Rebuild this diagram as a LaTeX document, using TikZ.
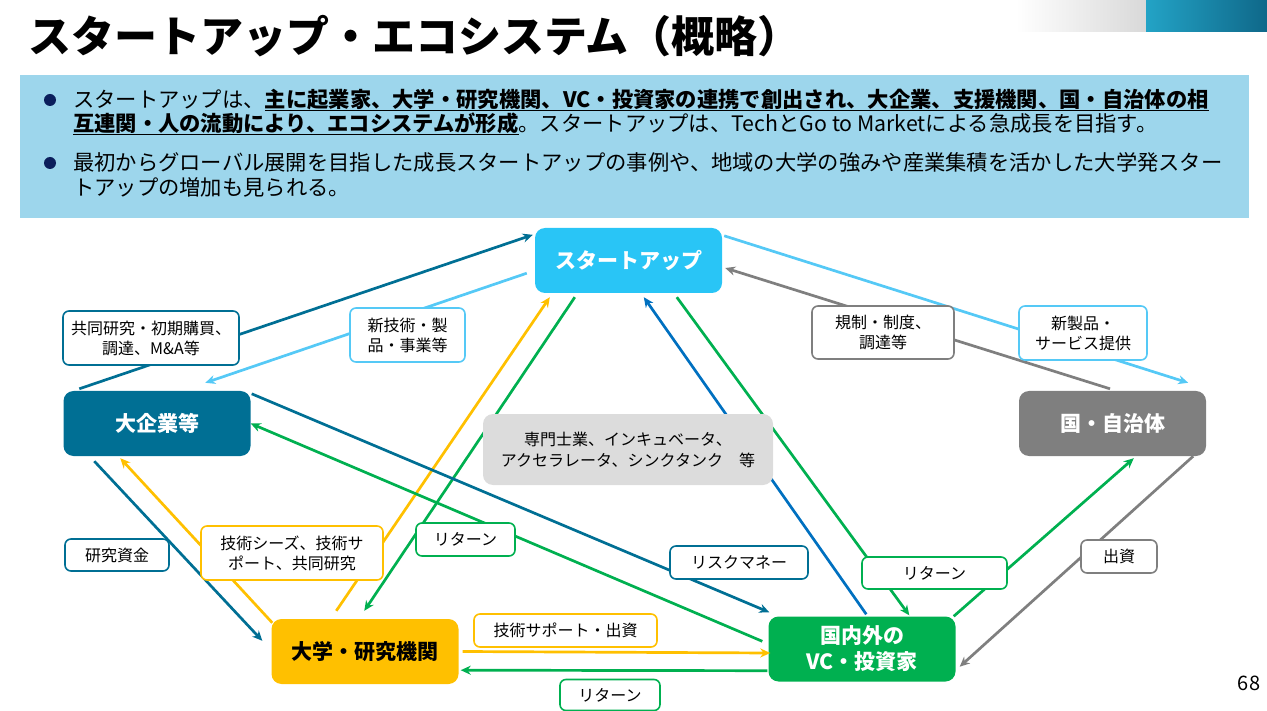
\documentclass[tikz,border=0pt]{standalone}
\usepackage{fontspec}
\setmainfont{Noto Sans CJK JP}
\usetikzlibrary{arrows.meta}

\definecolor{cStart}{HTML}{29C5F6}
\definecolor{cCorp}{HTML}{006F94}
\definecolor{cGov}{HTML}{7F7F7F}
\definecolor{cUni}{HTML}{FFC000}
\definecolor{cVC}{HTML}{00B050}
\definecolor{cSky}{HTML}{55C9F6}
\definecolor{cBlue}{HTML}{0070C0}
\definecolor{cPanel}{HTML}{9DD6EC}
\definecolor{cNavy}{HTML}{0B1F5C}
\definecolor{cSupport}{HTML}{DCDCDC}
\definecolor{cTealA}{HTML}{23A3C6}
\definecolor{cTealB}{HTML}{0F6889}

\newcommand{\keyline}[1]{\setbox0\hbox{#1}\rlap{\rule[-3.5pt]{\wd0}{1.6pt}}\box0}

\begin{document}
\begin{tikzpicture}[x=1pt,y=-1pt,
  flow/.style={line width=2.7pt,-{Stealth[length=10pt,width=9pt]}}]
\useasboundingbox (0,0) rectangle (1267,711);

% header
\shade[left color=white,right color=black!15] (1016,0) rectangle (1146,32);
\shade[left color=cTealA,right color=cTealB] (1146,0) rectangle (1267,32);
\node[anchor=west,inner sep=0pt,font=\fontsize{43}{43}\selectfont\bfseries] (title) at (28,36) {スタートアップ・エコシステム（概略）};

% summary panel
\fill[cPanel] (20,75) rectangle (1249,218);
\fill[cNavy] (50,100) circle (6pt);
\fill[cNavy] (50,163) circle (6pt);
\begin{scope}[every node/.style={anchor=base west,inner sep=0pt,font=\fontsize{21.3}{24.5}\selectfont}]
  \node (line1) at (73,108) {スタートアップは、\keyline{\bfseries 主に起業家、大学・研究機関、VC・投資家の連携で創出され、大企業、支援機関、国・自治体の相}};
  \node (line2) at (73,132) {\keyline{\bfseries 互連関・人の流動により、エコシステムが形成}。スタートアップは、TechとGo to Marketによる急成長を目指す。};
  \node (line3) at (73,171) {最初からグローバル展開を目指した成長スタートアップの事例や、地域の大学の強みや産業集積を活かした大学発スター};
  \node (line4) at (73,196) {トアップの増加も見られる。};
\end{scope}

% actors
\begin{scope}[every node/.style={rounded corners=10pt,minimum width=187pt,minimum height=65pt,
    text=white,align=center,font=\fontsize{21}{26}\selectfont\bfseries}]
  \node[fill=cStart] (su) at (628.5,260.5) {スタートアップ};
  \node[fill=cCorp] (le) at (157,423.5) {大企業等};
  \node[fill=cGov] (gov) at (1112.5,423.5) {国・自治体};
  \node[fill=cUni,text=black] (uni) at (365,651.5) {大学・研究機関};
  \node[fill=cVC] (vc) at (862,649) {国内外の\\VC・投資家};
\end{scope}

% flows
\draw[flow,cCorp] ([xshift=16pt,yshift=2pt]le.north west) -- ([xshift=-2pt,yshift=-7pt]su.north west);
\draw[flow,cSky] ([xshift=-8pt,yshift=20pt]su.south west) -- ([xshift=142pt,yshift=8pt]le.north west);
\draw[flow,cSky] ([xshift=2pt,yshift=-8pt]su.north east) -- ([xshift=-18pt,yshift=8pt]gov.north east);
\draw[flow,cGov] ([xshift=-2.5pt,yshift=2pt]gov.north) -- ([xshift=3pt,yshift=-7.5pt]su.east);
\draw[flow,cCorp] ([xshift=31pt,yshift=-5pt]le.south west) -- ([xshift=-9pt,yshift=-22pt]uni.north west);
\draw[flow,cUni] ([xshift=1pt,yshift=-4pt]uni.north west) -- ([xshift=57pt,yshift=-2pt]le.south west);
\draw[flow,cUni] ([xshift=65pt,yshift=8pt]uni.north west) -- ([xshift=15pt,yshift=-4pt]su.south west);
\draw[flow,cVC] ([xshift=40pt,yshift=-4pt]su.south west) -- ([xshift=93pt,yshift=8pt]uni.north west);
\draw[flow,cCorp] ([xshift=1pt,yshift=-3pt]le.north east) -- ([xshift=1pt,yshift=4pt]vc.north west);
\draw[flow,cVC] ([xshift=-6pt,yshift=-25pt]vc.north west) -- (le.east);
\draw[flow,cBlue] ([xshift=98pt,yshift=2pt]vc.north west) -- ([xshift=109pt,yshift=-4pt]su.south west);
\draw[flow,cVC] ([xshift=142pt,yshift=-4pt]su.south west) -- ([xshift=141pt,yshift=1pt]vc.north west);
\draw[flow,cVC] ([xshift=-2pt]vc.north east) -- ([xshift=115pt,yshift=-2pt]gov.south west);
\draw[flow,cGov] ([xshift=-13pt]gov.south east) -- ([xshift=4pt,yshift=15pt]vc.south east);
\draw[flow,cUni] ([xshift=4pt]uni.east) -- ([xshift=2pt,yshift=-4pt]vc.west);
\draw[flow,cVC] ([xshift=-1pt,yshift=11pt]vc.south west) -- ([xshift=2pt,yshift=14pt]uni.south east);

% support organisations
\node[fill=cSupport,rounded corners=10pt,minimum width=290pt,minimum height=71pt,align=center,
  font=\fontsize{16}{21}\selectfont] (sup) at (628,449.5) {専門士業、インキュベータ、\\アクセラレータ、シンクタンク　等};

% flow labels
\begin{scope}[every node/.style={fill=white,draw,line width=1.6pt,rounded corners=6pt,inner sep=0pt,
    align=center,font=\fontsize{16}{20}\selectfont}]
  \node[draw=cCorp,minimum width=176pt,minimum height=54pt] (lblJoint) at (151,338) {共同研究・初期購買、\\調達、M\&A等};
  \node[draw=cSky,minimum width=115pt,minimum height=54pt] (lblNewTech) at (407.5,335) {新技術・製\\品・事業等};
  \node[draw=cGov,minimum width=142pt,minimum height=53pt] (lblReg) at (883,332.5) {規制・制度、\\調達等};
  \node[draw=cSky,minimum width=128pt,minimum height=54pt] (lblNewProd) at (1083,333) {新製品・\\サービス提供};
  \node[draw=cCorp,minimum width=104pt,minimum height=32pt] (lblFund) at (117,555) {研究資金};
  \node[draw=cUni,minimum width=182pt,minimum height=54pt] (lblSeeds) at (292,553) {技術シーズ、技術サ\\ポート、共同研究};
  \node[draw=cVC,minimum width=99pt,minimum height=33pt] (lblRetA) at (465.5,539.5) {リターン};
  \node[draw=cCorp,minimum width=138pt,minimum height=33pt] (lblRisk) at (739,562.5) {リスクマネー};
  \node[draw=cVC,minimum width=145pt,minimum height=32pt] (lblRetB) at (934.5,573) {リターン};
  \node[draw=cGov,minimum width=76pt,minimum height=33pt] (lblInvest) at (1119,556.5) {出資};
  \node[draw=cUni,minimum width=183pt,minimum height=33pt] (lblSupport) at (565.5,630.5) {技術サポート・出資};
  \node[draw=cVC,minimum width=100pt,minimum height=31pt] (lblRetC) at (610,695) {リターン};
\end{scope}

\node[font=\fontsize{20}{20}\selectfont] (page) at (1249,683) {68};
\end{tikzpicture}
\end{document}
